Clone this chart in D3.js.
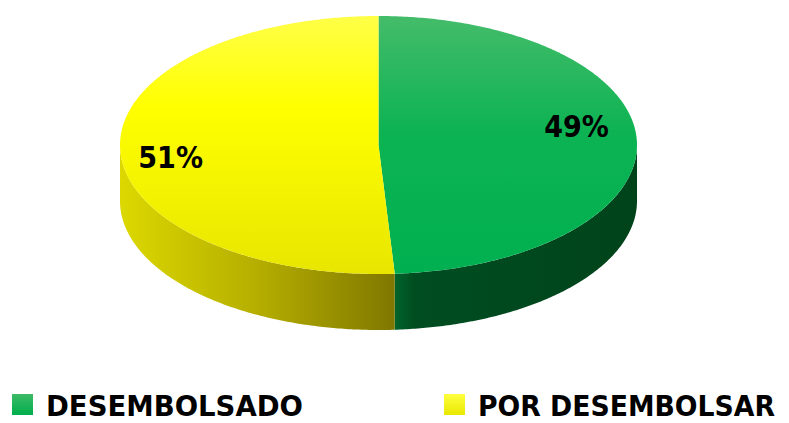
<!DOCTYPE html>
<html>
<head>
<meta charset="utf-8">
<script src="https://cdn.jsdelivr.net/npm/d3@7"></script>
<style>
  body { margin: 0; background: #fff; }
  svg { display: block; }
  text { font-family: "DejaVu Sans Condensed", "DejaVu Sans", sans-serif; font-weight: bold; fill: #000; }
</style>
</head>
<body>
<svg id="chart" width="789" height="423"></svg>
<script>
// data
const categories = ["DESEMBOLSADO", "POR DESEMBOLSAR"];
const values = [49, 51];
const labels = ["49%", "51%"];

// 3d pie geometry
const cx = 378.5, cy = 145, rx = 258.5, ry = 129, depth = 56;

let svg = d3.select("#chart");
let defs = svg.append("defs");

function vGrad(id, stops) {
    let g = defs.append("linearGradient").attr("id", id)
        .attr("x1", 0).attr("y1", 0).attr("x2", 0).attr("y2", 1);
    stops.forEach(s => g.append("stop").attr("offset", s[0]).attr("stop-color", s[1]));
}
function hGrad(id, x1, x2, stops) {
    let g = defs.append("linearGradient").attr("id", id)
        .attr("gradientUnits", "userSpaceOnUse")
        .attr("x1", x1).attr("y1", 0).attr("x2", x2).attr("y2", 0);
    stops.forEach(s => g.append("stop").attr("offset", s[0]).attr("stop-color", s[1]));
}

vGrad("topGreen", [[0, "#44bc6a"], [0.45, "#0db353"], [1, "#00b050"]]);
vGrad("topYellow", [[0, "#ffff48"], [0.35, "#ffff00"], [1, "#e8e600"]]);
vGrad("legGreen", [[0, "#3dba66"], [1, "#00ae4c"]]);
vGrad("legYellow", [[0, "#ffff40"], [1, "#e9e700"]]);

let pie = d3.pie().sort(null).startAngle(0).endAngle(2 * Math.PI);
let arcs = pie(values);

// split angle between the two slices, where the side gradients meet
let splitX = cx + rx * Math.sin(arcs[0].endAngle);
hGrad("sideGreen", splitX, cx + rx, [[0, "#00642a"], [0.08, "#004d21"], [1, "#00431b"]]);
hGrad("sideYellow", cx - rx, splitX, [[0, "#dcd800"], [0.5, "#b5ae00"], [0.97, "#837b00"], [1, "#7d7600"]]);

const topFill = ["url(#topGreen)", "url(#topYellow)"];
const sideFill = ["url(#sideGreen)", "url(#sideYellow)"];
const legFill = ["url(#legGreen)", "url(#legYellow)"];

function px(a, r = 1) { return cx + rx * r * Math.sin(a); }
function py(a, r = 1) { return cy - ry * r * Math.cos(a); }

function sampleAngles(a0, a1) {
    let n = Math.max(2, Math.ceil(Math.abs(a1 - a0) / 0.01));
    return d3.range(n + 1).map(i => a0 + (a1 - a0) * i / n);
}

let line = d3.line();

// sides (front half only, angles between pi/2 and 3pi/2)
let sides = svg.append("g");
arcs.forEach((d, i) => {
    let a0 = Math.max(d.startAngle, Math.PI / 2);
    let a1 = Math.min(d.endAngle, 3 * Math.PI / 2);
    if (a1 <= a0) return;
    let angs = sampleAngles(a0, a1);
    let pts = angs.map(a => [px(a), py(a)])
        .concat(angs.slice().reverse().map(a => [px(a), py(a) + depth]));
    sides.append("path")
        .attr("d", line(pts) + "Z")
        .attr("fill", sideFill[i]);
});

// top faces
let tops = svg.append("g");
arcs.forEach((d, i) => {
    let angs = sampleAngles(d.startAngle, d.endAngle);
    let pts = [[cx, cy]].concat(angs.map(a => [px(a), py(a)]));
    tops.append("path")
        .attr("d", line(pts) + "Z")
        .attr("fill", topFill[i]);
});

// data labels
const labelShift = [-0.16, -0.09];
const labelRad = [0.78, 0.81];
arcs.forEach((d, i) => {
    let mid = (d.startAngle + d.endAngle) / 2 + labelShift[i];
    svg.append("text")
        .attr("x", px(mid, labelRad[i]))
        .attr("y", py(mid, labelRad[i]))
        .attr("dy", "0.36em")
        .attr("text-anchor", "middle")
        .attr("font-size", 30)
        .text(labels[i]);
});

// legend
const legX = [12, 444];
const legW = [257, 297];
let legend = svg.append("g");
categories.forEach((c, i) => {
    legend.append("rect")
        .attr("x", legX[i]).attr("y", 394)
        .attr("width", 21).attr("height", 21)
        .attr("fill", legFill[i]);
    legend.append("text")
        .attr("x", legX[i] + 34).attr("y", 416)
        .attr("font-size", 29)
        .attr("textLength", legW[i])
        .attr("lengthAdjust", "spacingAndGlyphs")
        .text(c);
});
</script>
</body>
</html>
